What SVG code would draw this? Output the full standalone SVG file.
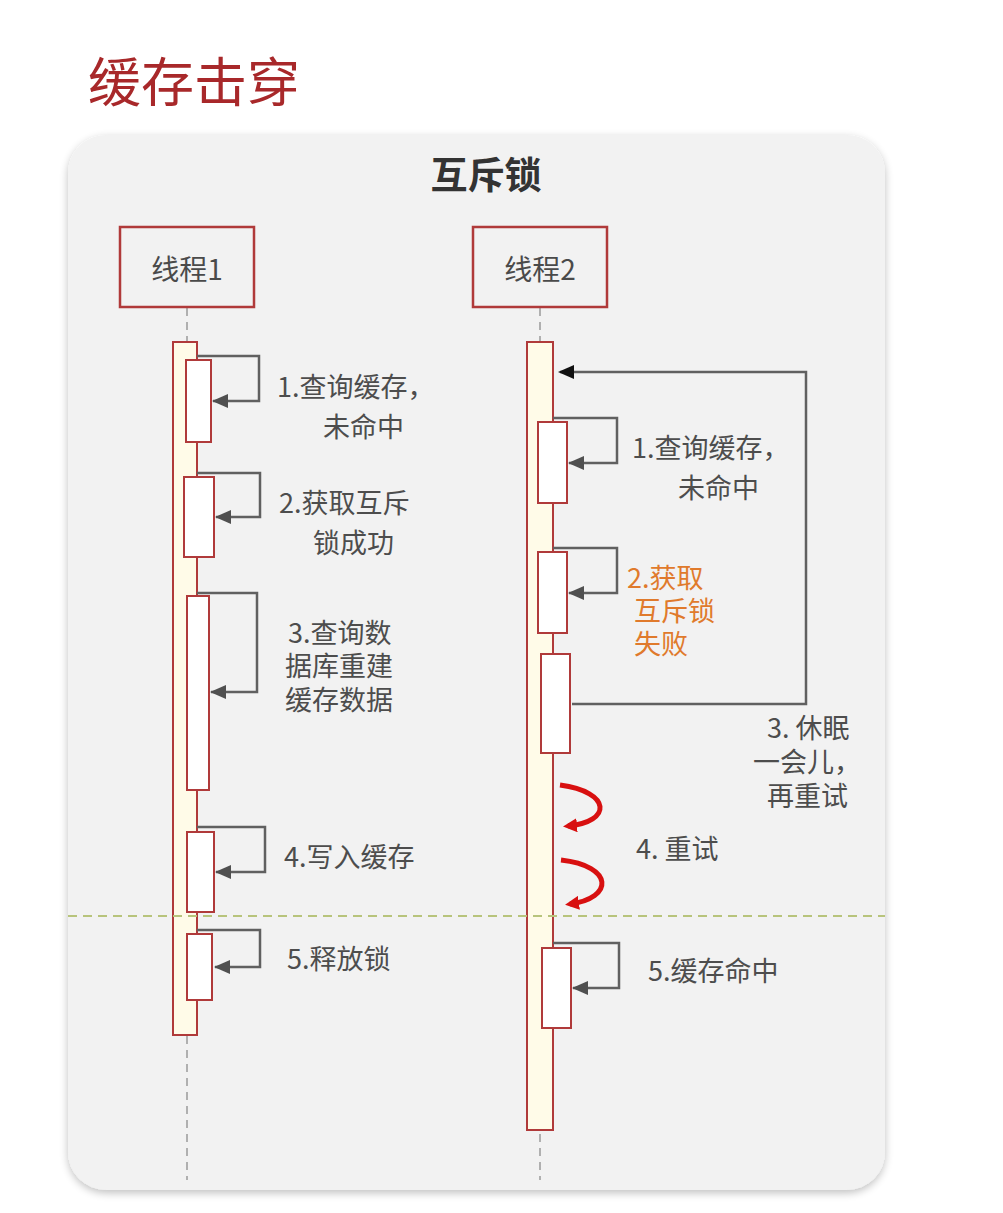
<svg xmlns="http://www.w3.org/2000/svg" width="1003" height="1213" viewBox="0 0 1003 1213">
<style>
.t{font-family:"Noto Sans CJK SC","Noto Sans",sans-serif;font-size:27px;fill:#4d4d4d}
.o{fill:#e07a2c}
.hd{font-family:"Noto Sans CJK SC","Noto Sans",sans-serif;font-size:28px;fill:#4a4a4a;text-anchor:middle}
.bar{fill:#fffbe8;stroke:#b03a3a;stroke-width:2}
.act{fill:#ffffff;stroke:#b03a3a;stroke-width:2}
.msg{fill:none;stroke:#606060;stroke-width:2.5}
.life{stroke:#b0b0b0;stroke-width:2;stroke-dasharray:8 6}
.box{fill:#f2f2f2;stroke:#b03a3a;stroke-width:2.5}
</style>
<defs>
<marker id="ah" markerWidth="16" markerHeight="14" refX="15" refY="7" orient="auto" markerUnits="userSpaceOnUse" viewBox="0 0 16 14">
<path d="M0,0 L16,7 L0,14 z" fill="#505050"/>
</marker>
<marker id="ahb" markerWidth="16" markerHeight="14" refX="14" refY="7" orient="auto" markerUnits="userSpaceOnUse" viewBox="0 0 16 14">
<path d="M0,0 L16,7 L0,14 z" fill="#111"/>
</marker>
<marker id="ahr" markerWidth="14" markerHeight="14" refX="9" refY="7" orient="auto" markerUnits="userSpaceOnUse" viewBox="0 0 14 14">
<path d="M0,0 L14,7 L0,14 z" fill="#d81010"/>
</marker>
<filter id="sh" x="-5%" y="-5%" width="110%" height="110%">
<feGaussianBlur in="SourceAlpha" stdDeviation="4"/>
<feOffset dx="0" dy="3"/>
<feComponentTransfer><feFuncA type="linear" slope="0.25"/></feComponentTransfer>
<feMerge><feMergeNode/><feMergeNode in="SourceGraphic"/></feMerge>
</filter>
</defs>
<rect width="1003" height="1213" fill="#ffffff"/>
<text x="88" y="102" font-family="Noto Sans CJK SC,sans-serif" font-size="53" fill="#a8282a">缓存击穿</text>
<rect x="68" y="135" width="817" height="1055" rx="38" fill="#f2f2f2" filter="url(#sh)"/>
<text x="486" y="189" text-anchor="middle" font-family="Noto Sans CJK SC,sans-serif" font-size="37" font-weight="bold" fill="#333">互斥锁</text>

<g id="lifelines">
<line class="life" x1="187" y1="308" x2="187" y2="1180"/>
<line class="life" x1="540" y1="308" x2="540" y2="1180"/>
</g>

<g id="thread1">
<rect class="box" x="120" y="227" width="134" height="80"/>
<text class="hd" x="187" y="280">线程1</text>
</g>
<g id="thread2">
<rect class="box" x="473" y="227" width="134" height="80"/>
<text class="hd" x="540" y="280">线程2</text>
</g>

<g id="bar1"><rect class="bar" x="173" y="342" width="24" height="693"/></g>
<g id="bar2"><rect class="bar" x="527" y="342" width="26" height="788"/></g>

<g id="connectors">
<polyline class="msg" points="197,356 259,356 259,401 213,401" marker-end="url(#ah)"/>
<polyline class="msg" points="197,473 260,473 260,517 216,517" marker-end="url(#ah)"/>
<polyline class="msg" points="197,593 257,593 257,692 211,692" marker-end="url(#ah)"/>
<polyline class="msg" points="197,827 265,827 265,872 216,872" marker-end="url(#ah)"/>
<polyline class="msg" points="197,930 260,930 260,967 215,967" marker-end="url(#ah)"/>
<polyline class="msg" points="553,418 617,418 617,463 569,463" marker-end="url(#ah)"/>
<polyline class="msg" points="553,548 617,548 617,593 569,593" marker-end="url(#ah)"/>
<polyline class="msg" points="572,704 806,704 806,372 560,372" marker-end="url(#ahb)"/>
<polyline class="msg" points="553,943 619,943 619,988 573,988" marker-end="url(#ah)"/>
<path d="M560,785 C612,792 612,822 568,826" fill="none" stroke="#d81010" stroke-width="5" marker-end="url(#ahr)"/>
<path d="M561,860 C614,866 614,898 570,904" fill="none" stroke="#d81010" stroke-width="5" marker-end="url(#ahr)"/>
<line x1="68" y1="916" x2="885" y2="916" stroke="#b8c47c" stroke-width="2" stroke-dasharray="9 6"/>
</g>

<g id="t1-act">
<rect class="act" x="186" y="360" width="25" height="82"/>
<rect class="act" x="184" y="477" width="30" height="80"/>
<rect class="act" x="187" y="596" width="22" height="194"/>
<rect class="act" x="187" y="832" width="27" height="80"/>
<rect class="act" x="187" y="934" width="25" height="66"/>
</g>
<g id="t2-act">
<rect class="act" x="538" y="422" width="29" height="81"/>
<rect class="act" x="538" y="552" width="29" height="81"/>
<rect class="act" x="541" y="654" width="29" height="99"/>
<rect class="act" x="542" y="948" width="29" height="80"/>
</g>

<g id="labels">
<text class="t" x="277" y="397">1.查询缓存，</text>
<text class="t" x="323" y="437">未命中</text>
<text class="t" x="279" y="513">2.获取互斥</text>
<text class="t" x="313" y="553">锁成功</text>
<text class="t" x="288" y="643">3.查询数</text>
<text class="t" x="285" y="676">据库重建</text>
<text class="t" x="285" y="710">缓存数据</text>
<text class="t" x="284" y="867">4.写入缓存</text>
<text class="t" x="287" y="969">5.释放锁</text>
<text class="t" x="632" y="458">1.查询缓存，</text>
<text class="t" x="678" y="498">未命中</text>
<text class="t o" x="627" y="588">2.获取</text>
<text class="t o" x="634" y="621">互斥锁</text>
<text class="t o" x="634" y="654">失败</text>
<text class="t" x="767" y="738">3. 休眠</text>
<text class="t" x="753" y="772">一会儿，</text>
<text class="t" x="767" y="806">再重试</text>
<text class="t" x="636" y="859">4. 重试</text>
<text class="t" x="648" y="981">5.缓存命中</text>
</g>
</svg>
